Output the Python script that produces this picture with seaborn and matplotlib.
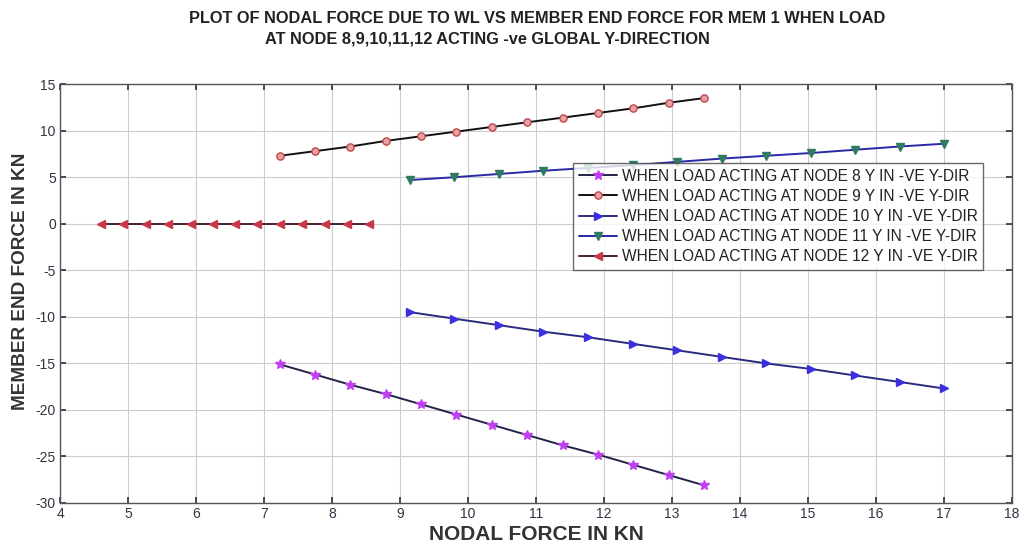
import matplotlib
matplotlib.use("Agg")
import matplotlib.pyplot as plt
import seaborn as sns
import pandas as pd
from matplotlib.lines import Line2D

# ---- data ----
x_a = [7.23, 7.75, 8.27, 8.79, 9.31, 9.83, 10.35, 10.87, 11.39, 11.91, 12.43, 12.95, 13.47]
x_b = [9.15, 9.80, 10.46, 11.11, 11.77, 12.42, 13.08, 13.73, 14.38, 15.04, 15.69, 16.35, 17.00]
x_c = [4.60, 4.93, 5.26, 5.59, 5.92, 6.25, 6.58, 6.90, 7.23, 7.56, 7.89, 8.22, 8.55]

y_node8 = [-15.1, -16.2, -17.3, -18.3, -19.4, -20.5, -21.6, -22.7, -23.8, -24.8, -25.9, -27.0, -28.1]
y_node9 = [7.3, 7.8, 8.3, 8.9, 9.4, 9.9, 10.4, 10.9, 11.4, 11.9, 12.4, 13.0, 13.5]
y_node10 = [-9.5, -10.2, -10.9, -11.6, -12.2, -12.9, -13.6, -14.3, -15.0, -15.6, -16.3, -17.0, -17.7]
y_node11 = [4.7, 5.0, 5.35, 5.7, 6.0, 6.3, 6.65, 7.0, 7.3, 7.6, 7.95, 8.3, 8.6]
y_node12 = [0.0] * 13

labels = [
    "WHEN LOAD ACTING AT NODE 8 Y IN -VE Y-DIR",
    "WHEN LOAD ACTING AT NODE 9 Y IN -VE Y-DIR",
    "WHEN LOAD ACTING AT NODE 10 Y IN -VE Y-DIR",
    "WHEN LOAD ACTING AT NODE 11 Y IN -VE Y-DIR",
    "WHEN LOAD ACTING AT NODE 12 Y IN -VE Y-DIR",
]
x_ticks = list(range(4, 19))
y_ticks = list(range(-30, 16, 5))

series = [
    (x_a, y_node8, "#22224a", "#c040f0", "*"),
    (x_a, y_node9, "#111111", "#c04848", "o"),
    (x_b, y_node10, "#2a2a80", "#3a30e0", ">"),
    (x_b, y_node11, "#2828a8", "#2f7a60", "v"),
    (x_c, y_node12, "#4a2030", "#c83848", "<"),
]

sns.set_theme(style="white")
plt.rcParams['font.family'] = ['Liberation Sans', 'DejaVu Sans']
plt.rcParams['axes.unicode_minus'] = False

fig = plt.figure(figsize=(10.24, 5.5), dpi=100)
ax = fig.add_axes([0.0586, 0.0855, 0.9297, 0.7615])


def marker_kw(mk, mc):
    return dict(marker=mk, markersize=7 if mk == "*" else 5.2,
                markerfacecolor=mc if mk != "o" else "#e8a0a8",
                markeredgecolor=mc, markeredgewidth=1.0)


handles = []
for (xs, ys, lc, mc, mk), lab in zip(series, labels):
    df = pd.DataFrame({"x": xs, "y": ys})
    sns.lineplot(data=df, x="x", y="y", ax=ax, color=lc, linewidth=1.4,
                 sort=False, **marker_kw(mk, mc))
    handles.append(Line2D([], [], color=lc, linewidth=1.4, **marker_kw(mk, mc)))

ax.set_xlim(4, 18)
ax.set_ylim(-30, 15)
ax.set_xticks(x_ticks)
ax.set_yticks(y_ticks)
ax.grid(True, color="#cccccc", linewidth=0.8, linestyle="-")
ax.tick_params(axis="both", direction="in", length=4, labelsize=10, colors="#333344",
               pad=3, bottom=True, left=True, top=True, right=True,
               labeltop=False, labelright=False)
for s in ax.spines.values():
    s.set_color("#555555")
    s.set_linewidth(1.0)

ax.set_xlabel("NODAL FORCE IN KN", fontsize=15, fontweight="bold", color="#333333", labelpad=3)
ax.set_ylabel("MEMBER END FORCE IN KN", fontsize=13.7, fontweight="bold", color="#333333", labelpad=4)
ax.yaxis.set_label_coords(-0.033, 0.53)

fig.text(0.525, 0.967, "PLOT OF NODAL FORCE DUE TO WL VS MEMBER END FORCE FOR MEM 1 WHEN LOAD",
         ha="center", va="center", fontsize=11.8, fontweight="bold", color="#222222")
fig.text(0.476, 0.930, "AT NODE 8,9,10,11,12 ACTING -ve GLOBAL Y-DIRECTION",
         ha="center", va="center", fontsize=11.8, fontweight="bold", color="#222222")

leg = ax.legend(handles, labels, loc="upper left", bbox_to_anchor=(0.539, 0.811),
                fontsize=11.2, frameon=True, fancybox=False, borderpad=0.35,
                labelspacing=0.33, handlelength=2.5, handletextpad=0.3,
                borderaxespad=0.0)
leg.get_frame().set_edgecolor("#444444")
leg.get_frame().set_linewidth(1.0)
for t in leg.get_texts():
    t.set_color("#222222")

fig.savefig("out.png", dpi=100)
